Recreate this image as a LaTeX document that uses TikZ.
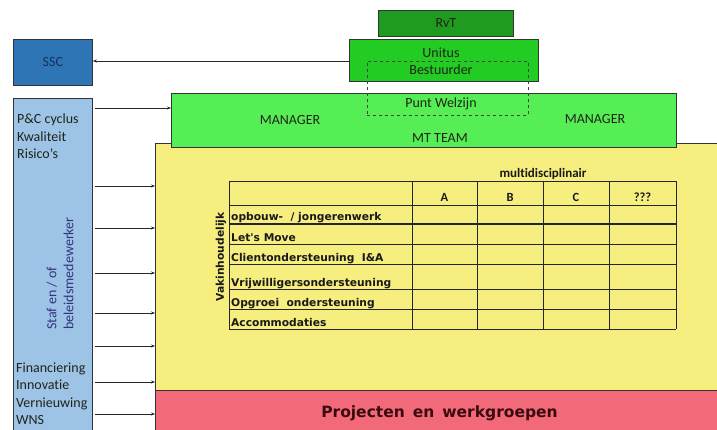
\documentclass[tikz,border=0pt]{standalone}
\usepackage{fontspec}
\setmainfont{Carlito}[Ligatures=NoCommon]
\newfontfamily\tabfont{DejaVu Sans}
\usepackage{xcolor}
\usetikzlibrary{arrows.meta}

\definecolor{sscblue}{HTML}{2E75B6}
\definecolor{sscnavy}{HTML}{17305A}
\definecolor{stafblue}{HTML}{9DC3E6}
\definecolor{rvtgreen}{HTML}{1F9B1F}
\definecolor{unitusgreen}{HTML}{22CC22}
\definecolor{mtgreen}{HTML}{55EE55}
\definecolor{vakyellow}{HTML}{F7EE80}
\definecolor{projred}{HTML}{F26A7A}
\definecolor{inkdark}{HTML}{202418}
\definecolor{projink}{HTML}{3A0A0E}

\tikzset{
  box/.style={draw=black!80, line width=0.8pt, anchor=north west, inner sep=0pt, text=inkdark},
  dashbox/.style={draw=black!75, dashed, line width=0.8pt, anchor=north west, inner sep=0pt},
  arr/.style={draw=black!85, line width=0.8pt, -{Stealth[length=4pt,width=3pt]}},
  grid/.style={draw=black!85, line width=0.9pt},
  lbl/.style={inner sep=0pt, text=inkdark},
  rowlbl/.style={inner sep=0pt, anchor=base west, text=black!90, font=\tabfont\bfseries\fontsize{10.7}{12}\selectfont},
  hdr/.style={inner sep=0pt, anchor=base, text=black!90, font=\bfseries\fontsize{12.5}{14}\selectfont}
}

\begin{document}
\begin{tikzpicture}[x=1pt, y=-1pt, font=\fontsize{14}{17}\selectfont]
\useasboundingbox (0,0) rectangle (717,430);
\clip (0,0) rectangle (717,430);

% left column
\node[box, fill=sscblue, minimum width=79pt, minimum height=46pt, text=sscnavy] (ssc) at (13,39) {SSC};
\node[box, fill=stafblue, minimum width=79pt, minimum height=340pt] (staf) at (13,98) {};
    \node[lbl, anchor=base west] (pc) at (17,124) {P\&C cyclus};
    \node[lbl, anchor=base west] (kwal) at (17,141.5) {Kwaliteit};
    \node[lbl, anchor=base west] (risico) at (17,159) {Risico's};
    \node[lbl, rotate=90, anchor=west, align=left, text=black!65!blue!80] (stafen) at (60,330) {Staf en / of\\beleidsmedewerker};
    \node[lbl, anchor=base west] (fin) at (16,372) {Financiering};
    \node[lbl, anchor=base west] (innov) at (16,389.5) {Innovatie};
    \node[lbl, anchor=base west] (vern) at (16,407) {Vernieuwing};
    \node[lbl, anchor=base west] (wns) at (16,424.5) {WNS};

% top of the organisation
\node[box, fill=rvtgreen, minimum width=135pt, minimum height=26pt] (rvt) at (378,10) {RvT};
\node[box, fill=unitusgreen, minimum width=189pt, minimum height=42pt] (unitus) at (349,39) {};
    \node[lbl] (unitustxt) at (441,52.5) {Unitus};
    \node[lbl] (bestuurder) at (441,70) {Bestuurder};

% main blocks
\node[box, fill=vakyellow, minimum width=575pt, minimum height=247pt] (vak) at (155,143) {};
\node[box, fill=projred, minimum width=575pt, minimum height=45pt] (proj) at (155,390) {};
    \node[lbl, anchor=base, text=projink, font=\tabfont\bfseries\fontsize{15.5}{18}\selectfont] (projtxt) at (439.5,417) {Projecten\, en\, werkgroepen};
\node[box, fill=mtgreen, minimum width=505pt, minimum height=54pt] (mt) at (171,93) {};
    \node[lbl] (mgr1) at (290,120) {MANAGER};
    \node[lbl] (mgr2) at (595,119.5) {MANAGER};
    \node[lbl] (mtteam) at (440,138) {MT TEAM};
    \node[lbl] (punt) at (441,104) {Punt Welzijn};
\node[dashbox, minimum width=161pt, minimum height=54pt] (puntbox) at (367,61) {};

% connectors
\draw[arr] (unitus.west |- 0,61) -- (ssc.east |- 0,61);
\coordinate (s0) at (95,108);
\draw[arr] (s0) -- (s0 -| mt.west);
\foreach \y [count=\i] in {186,228,273,313,346,382,414} {
    \coordinate (s\i) at (95,\y);
    \draw[arr] (s\i) -- (s\i -| vak.west);
}

% table
\foreach \x in {229,412,477,543,609,676}
    \draw[grid] (\x,181) -- (\x,329);
\foreach \y in {181,205,244,264,289,309,329}
    \draw[grid] (229,\y) -- (676,\y);
\draw[grid, line width=1.5pt] (229,224) -- (676,224);

    \node[hdr, font=\bfseries\fontsize{13}{15}\selectfont] (multi) at (543,178) {multidisciplinair};
    \node[hdr] (colA) at (444.5,201.5) {A};
    \node[hdr] (colB) at (510,201.5) {B};
    \node[hdr] (colC) at (576,201.5) {C};
    \node[hdr] (colQ) at (642.5,201.5) {???};

    \node[rowlbl, rotate=90, anchor=center] (vakinh) at (221,257) {Vakinhoudelijk};
    \node[rowlbl] (r1) at (231,221) {opbouw- \ / jongerenwerk};
    \node[rowlbl] (r2) at (231,241.5) {Let's Move};
    \node[rowlbl] (r3) at (231,261.5) {Clientondersteuning \ I\&A};
    \node[rowlbl] (r4) at (231,286) {Vrijwilligersondersteuning};
    \node[rowlbl] (r5) at (231,306) {Opgroei \ ondersteuning};
    \node[rowlbl] (r6) at (231,326.5) {Accommodaties};

\end{tikzpicture}
\end{document}
